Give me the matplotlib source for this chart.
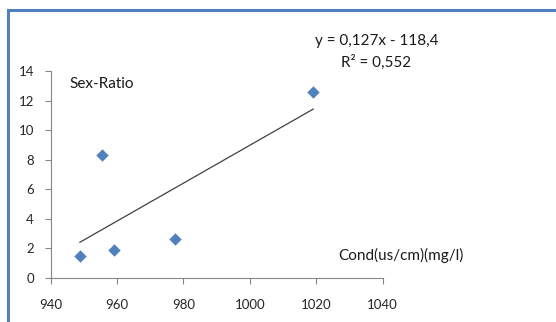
import numpy as np
import matplotlib.pyplot as plt
from matplotlib.lines import Line2D

# Conductivity vs sex ratio
cond = [948.8, 955.5, 959.1, 977.3, 1019.1]
sex_ratio = [1.47, 8.29, 1.86, 2.64, 12.6]
x_ticks = [940, 960, 980, 1000, 1020, 1040]
y_ticks = [0, 2, 4, 6, 8, 10, 12, 14]

plt.rcParams['font.family'] = ['Lato', 'DejaVu Sans']

fig = plt.figure(figsize=(5.56, 3.22), dpi=100)
ax = fig.add_axes([0.0912, 0.1376, 0.597, 0.642])

ax.scatter(cond, sex_ratio, marker='D', s=40, color='#4F81BD', zorder=3, linewidths=0)

# linear trend line
k, b = np.polyfit(cond, sex_ratio, 1)
xs = np.array([min(cond), max(cond)])
ax.plot(xs, k * xs + b, color='#404040', lw=0.9)

ax.set_xlim(940, 1040)
ax.set_ylim(0, 14)
ax.set_xticks(x_ticks)
ax.set_yticks(y_ticks)
for s in ['top', 'right']:
    ax.spines[s].set_visible(False)
for s in ['left', 'bottom']:
    ax.spines[s].set_color('#868686')
    ax.spines[s].set_linewidth(0.8)
ax.tick_params(axis='x', length=4, pad=11, color='#868686', labelsize=9.5, labelcolor='#262626')
ax.tick_params(axis='y', length=4, pad=8, color='#868686', labelsize=9.5, labelcolor='#262626')

fig.text(69 / 556, 1 - 84 / 322, 'Sex-Ratio', fontsize=11, va='center', ha='left', color='#1a1a1a')
fig.text(338 / 556, 1 - 255 / 322, 'Cond(us/cm)(mg/l)', fontsize=11, va='center', ha='left', color='#1a1a1a')
fig.text(377 / 556, 1 - 40.7 / 322, 'y = 0,127x - 118,4', fontsize=11, va='center', ha='center', color='#1a1a1a')
fig.text(376 / 556, 1 - 62.3 / 322, 'R² = 0,552', fontsize=11, va='center', ha='center', color='#1a1a1a')

# blue frame of the chart area (top and left edges visible)
frame_x = 7.5 / 556
frame_y = 1 - 9.5 / 322
fig.lines.append(Line2D([frame_x, frame_x, 1.0], [0.0, frame_y, frame_y], transform=fig.transFigure,
                        color='#4F81BD', lw=2.2, solid_joinstyle='miter'))

fig.savefig('out.png', dpi=100)
